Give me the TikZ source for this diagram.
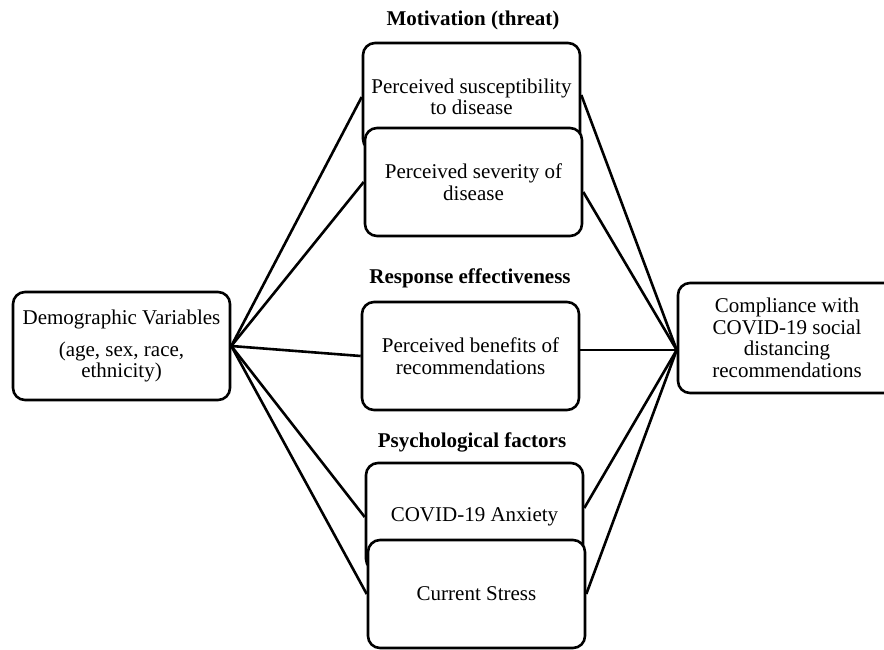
\documentclass[tikz,border=0pt]{standalone}
\usepackage{fontspec}
\setmainfont{Liberation Serif}
\usetikzlibrary{backgrounds,calc}
\begin{document}
\begin{tikzpicture}[x=1pt,y=-1pt,
 box/.style={draw, line width=2.6pt, rounded corners=12pt, fill=white,
   minimum width=217pt, minimum height=108pt, inner sep=0pt, align=center,
   font=\fontsize{21}{21.5}\selectfont},
 hdr/.style={font=\fontsize{21}{22}\selectfont\bfseries, inner sep=0pt},
 conn/.style={line width=2.6pt}]
\useasboundingbox (0,0) rectangle (884,649);
\clip (0,0) rectangle (884,649);
% headers
\node[hdr] (h1) at (473,20) {Motivation (threat)};
\node[hdr] (h2) at (470,278) {Response effectiveness};
\node[hdr] (h3) at (472,442) {Psychological factors};
% boxes
\node[box] (dem) at (121.5,346) {Demographic Variables\\[10pt](age, sex, race,\\ethnicity)};
\node[box, minimum width=218pt, minimum height=110pt] (comp) at (787,338)
  {Compliance with\\COVID-19 social\\distancing\\recommendations};
\node[box] (sus) at (471.5,97) {Perceived susceptibility\\to disease};
\node[box] (sev) at (473.5,182) {Perceived severity of\\disease};
\node[box] (ben) at (470.5,356) {Perceived benefits of\\recommendations};
\node[box] (anx) at (474.5,517) {COVID-19 Anxiety};
\node[box] (str) at (476.5,594) {Current Stress};
\coordinate (cin) at ($(comp.west)+(0,12)$);
% connectors
\begin{scope}[on background layer]
\draw[conn] (dem.east) -- (sus.west);
\draw[conn] (dem.east) -- (sev.west);
\draw[conn] (dem.east) -- (ben.west);
\draw[conn] (dem.east) -- (anx.west);
\draw[conn] (dem.east) -- (str.west);
\draw[conn] (cin) -- ($(sus.east)+(0,-2)$);
\draw[conn] (cin) -- ($(sev.east)+(0,10)$);
\draw[conn] (cin) -- (ben.east |- cin);
\draw[conn] (cin) -- ($(anx.east)+(0,-9)$);
\draw[conn] (cin) -- (str.east);
\end{scope}
\end{tikzpicture}
\end{document}
